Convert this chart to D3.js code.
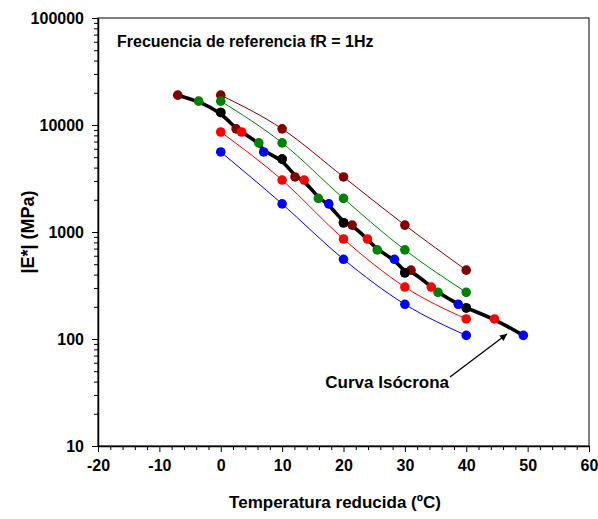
<!DOCTYPE html>
<html>
<head>
<meta charset="utf-8">
<script src="https://cdn.jsdelivr.net/npm/d3@7"></script>
<style>
  html, body { margin: 0; padding: 0; background: #fff; }
  svg { display: block; font-family: "Liberation Sans", Arial, sans-serif; font-weight: bold; }
</style>
</head>
<body>
<svg id="chart" width="598" height="519"></svg>
<script>
// ---- data ----
const temps = [0, 10, 20, 30, 40];
const seriesNames = ["f1", "f2", "f3", "f4", "f5"];
const seriesColors = ["#800000", "#008000", "#000000", "#ff0000", "#0000ff"];
const eBrown = [19000, 9200, 3270, 1160, 440];
const eGreen = [16700, 6800, 2060, 680, 273];
const eBlack = [13100, 4800, 1220, 416, 195];
const eRed   = [8600, 3060, 860, 306, 154];
const eBlue  = [5600, 1830, 556, 211, 108];
const tBrownShift = [-7.0, 2.5, 12.1, 21.4, 31.0];
const tGreenShift = [-3.6, 6.2, 15.9, 25.5, 35.4];
const tBlackShift = [0, 10, 20, 30, 40];
const tRedShift   = [3.4, 13.6, 23.9, 34.3, 44.6];
const tBlueShift  = [7.0, 17.6, 28.3, 38.7, 49.3];
const xTicks = [-20, -10, 0, 10, 20, 30, 40, 50, 60];
const yTicks = [10, 100, 1000, 10000, 100000];
const titleText = "Frecuencia de referencia fR = 1Hz";
const xTitle = "Temperatura reducida (ºC)";
const yTitle = "|E*| (MPa)";
const annText = "Curva Isócrona";
const annArrow = [[37.35, 44.2], [46.64, 111.4]];
const annTextPos = [37.2, 34.8];

const values = [eBrown, eGreen, eBlack, eRed, eBlue];
const shifts = [tBrownShift, tGreenShift, tBlackShift, tRedShift, tBlueShift];

// ---- layout ----
const L = 98, R = 589, T = 18, B = 446;
const svg = d3.select("#chart");
const x = d3.scaleLinear().domain([-20, 60]).range([L, R]);
const y = d3.scaleLog().domain([10, 100000]).range([B, T]);
const fmt = d => String(d);

// frame
svg.append("rect").attr("x", L).attr("y", T).attr("width", R - L).attr("height", B - T)
  .attr("fill", "none").attr("stroke", "#000").attr("stroke-width", 1);

// minor ticks
const yMinor = [];
for (let d = 10; d < 100000; d *= 10) for (let k = 2; k <= 9; k++) yMinor.push(d * k);
const xMinor = d3.range(-20, 61, 2).filter(v => v % 10 !== 0);

const gx = svg.append("g").attr("transform", `translate(0,${B})`);
gx.call(d3.axisBottom(x).tickValues(xMinor).tickSize(4).tickFormat(""));
gx.call(g => g.select(".domain").remove());
const gx2 = svg.append("g").attr("transform", `translate(0,${B})`);
gx2.call(d3.axisBottom(x).tickValues(xTicks).tickSize(6).tickSizeOuter(0).tickFormat(fmt).tickPadding(8));
gx2.selectAll("text").attr("font-size", 16).attr("font-family", "Liberation Sans, Arial, sans-serif").attr("font-weight", "bold").attr("fill", "#000");

const gy = svg.append("g").attr("transform", `translate(${L},0)`);
gy.call(d3.axisLeft(y).tickValues(yMinor).tickSize(4).tickFormat(""));
gy.call(g => g.select(".domain").remove());
const gy2 = svg.append("g").attr("transform", `translate(${L},0)`);
gy2.call(d3.axisLeft(y).tickValues(yTicks).tickSize(6).tickSizeOuter(0).tickFormat(fmt).tickPadding(8));
gy2.selectAll("text").attr("font-size", 16).attr("font-family", "Liberation Sans, Arial, sans-serif").attr("font-weight", "bold").attr("fill", "#000");
svg.selectAll(".domain").attr("stroke-width", 1.5);
svg.selectAll(".tick line").attr("stroke", "#000");

// colored isofrequency lines
const line = d3.line().x(d => x(d[0])).y(d => y(d[1])).curve(d3.curveMonotoneX);
values.forEach((vals, i) => {
  if (i === 2) return;
  const pts = temps.map((t, j) => [t, vals[j]]);
  svg.append("path").attr("d", line(pts)).attr("fill", "none")
    .attr("stroke", seriesColors[i]).attr("stroke-width", 1);
});

// isochrone
const iso = [];
values.forEach((vals, i) => shifts[i].forEach((t, j) => iso.push([t, vals[j]])));
iso.sort((a, b) => a[0] - b[0]);
const isoLine = d3.line().x(d => x(d[0])).y(d => y(d[1])).curve(d3.curveBasis);
svg.append("path").attr("d", isoLine(iso)).attr("fill", "none")
  .attr("stroke", "#000").attr("stroke-width", 3.6).attr("stroke-linejoin", "round");

// dots
values.forEach((vals, i) => {
  const pts = temps.map((t, j) => [t, vals[j]]).concat(shifts[i].map((t, j) => [t, vals[j]]));
  svg.append("g").selectAll("circle").data(pts).join("circle")
    .attr("cx", d => x(d[0])).attr("cy", d => y(d[1])).attr("r", 4.8)
    .attr("fill", seriesColors[i]);
});

// arrow annotation
svg.append("defs").append("marker").attr("id", "arr").attr("viewBox", "0 0 10 10")
  .attr("refX", 10).attr("refY", 5).attr("markerWidth", 9).attr("markerHeight", 7)
  .attr("markerUnits", "userSpaceOnUse").attr("orient", "auto")
  .append("path").attr("d", "M0,0 L10,5 L0,10 z").attr("fill", "#000");
svg.append("line")
  .attr("x1", x(annArrow[0][0])).attr("y1", y(annArrow[0][1]))
  .attr("x2", x(annArrow[1][0])).attr("y2", y(annArrow[1][1]))
  .attr("stroke", "#000").attr("stroke-width", 1.3).attr("marker-end", "url(#arr)");
svg.append("text").attr("x", x(annTextPos[0])).attr("y", y(annTextPos[1]))
  .attr("text-anchor", "end").attr("font-size", 17).text(annText);

// titles
svg.append("text").attr("x", 117).attr("y", 47).attr("font-size", 16).text(titleText);
svg.append("text").attr("x", 335).attr("y", 508).attr("text-anchor", "middle")
  .attr("font-size", 17).text(xTitle);
svg.append("text").attr("transform", `translate(34,${(T + B) / 2}) rotate(-90)`)
  .attr("text-anchor", "middle").attr("font-size", 18).text(yTitle);
</script>
</body>
</html>
